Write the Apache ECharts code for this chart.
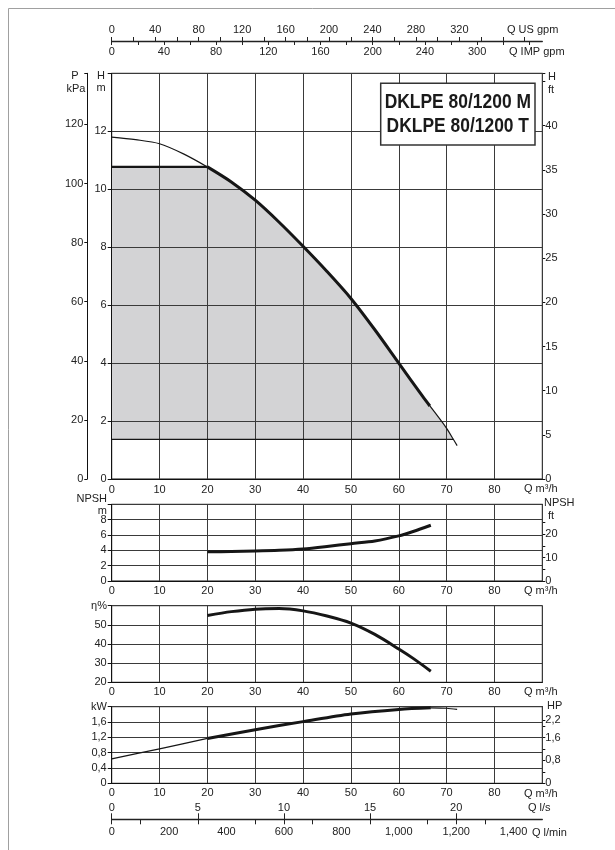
<!DOCTYPE html>
<html><head><meta charset="utf-8">
<script src="https://cdn.jsdelivr.net/npm/echarts@6/dist/echarts.min.js"></script>
<style>html,body{margin:0;padding:0;background:#fff}#c{width:615px;height:850px}</style>
</head><body><div id="c"></div>
<script>
// ---------- data ----------
const flowLabels = [0, 10, 20, 30, 40, 50, 60, 70, 80];           // Q m3/h
const headQ   = [0, 5, 10, 15, 20, 25, 30, 35, 40, 45, 50, 55, 60, 65, 66.5, 70, 71.4, 72.2];
const headH   = [11.8, 11.71, 11.57, 11.22, 10.77, 10.25, 9.62, 8.86, 8.03, 7.16, 6.23, 5.15, 4.0, 2.85, 2.52, 1.75, 1.37, 1.15];
const envelopeTop = [[0, 10.77], [20, 10.77]];
const envelopeBottom = [[0, 1.37], [71.4, 1.37]];
const npshQ   = [20, 25, 30, 35, 40, 45, 50, 55, 60, 63, 66.7];
const npshM   = [3.8, 3.84, 3.9, 4.0, 4.18, 4.5, 4.87, 5.22, 5.88, 6.45, 7.27];
const effQ    = [20, 25, 30, 35, 40, 45, 50, 55, 60, 63, 66.7];
const effPct  = [54.9, 56.9, 58.2, 58.5, 57.3, 54.6, 50.9, 45.0, 37.4, 32.5, 25.8];
const powQ    = [0, 10, 20, 30, 40, 50, 60, 66.7, 70, 72.2];
const powKW   = [0.64, 0.90, 1.17, 1.40, 1.61, 1.81, 1.93, 1.97, 1.96, 1.93];
const usGpmLabels  = [0, 40, 80, 120, 160, 200, 240, 280, 320];
const usGpmTicks   = [0, 20, 40, 60, 80, 100, 120, 140, 160, 180, 200, 220, 240, 260, 280, 300, 320, 340, 360, 380];
const impGpmLabelPos  = [0, 40, 80, 120, 160, 200, 240, 280];
const impGpmLabelText = ['0', '40', '80', '120', '160', '200', '240', '300'];
const impGpmTicks  = [0, 20, 40, 60, 80, 100, 120, 140, 160, 180, 200, 220, 240, 260, 280, 300, 320];
const lsLabels     = [0, 5, 10, 15, 20];
const lminLabels   = [0, 200, 400, 600, 800, 1000, 1200, 1400];
const lminTicks    = [0, 100, 300, 500, 600, 700, 900, 1100, 1200, 1300];
const npshFtLabels = [0, 10, 20];
const npshFtTicks  = [0, 5, 10, 15, 20, 25];
const hpLabels     = [0, 0.8, 1.6, 2.2];
const hpTicks      = [0, 0.4, 0.8, 1.2, 1.6, 2.0, 2.2];
const titleLines   = ['DKLPE 80/1200 M', 'DKLPE 80/1200 T'];

// ---------- helpers ----------
const pairs = (xs, ys) => xs.map((x, i) => [x, ys[i]]);
const Qmax = 90;
const M_TO_KPA = 9.80665, M_TO_FT = 1 / 0.3048, KW_TO_HP = 1 / 0.7457;
const FONT = "'Liberation Sans', Arial, sans-serif";
const TXT = '#222';
const GRIDC = '#3a3a3a';
const SMOOTH = 0.3;
const comma = v => v === 0 ? '0' : String(Math.round(v * 10) / 10).replace('.', ',');

const L = 111.7, R = 615 - 542.3;
const grids = [
  {left: L, right: R, top: 73.3, height: 405.7},
  {left: L, right: R, top: 504.3, height: 76.7},
  {left: L, right: R, top: 605.7, height: 76.6},
  {left: L, right: R, top: 706.7, height: 76.6},
  {left: L, right: R, top: 40, height: 1},
  {left: L, right: R, top: 818.3, height: 1}
].map((g, i) => Object.assign({show: i < 4, borderColor: '#111', borderWidth: 1, backgroundColor: 'transparent', containLabel: false, outerBoundsMode: 'none'}, g));

const lbl = (extra) => Object.assign({color: TXT, fontFamily: FONT, fontSize: 11}, extra);
function flowAxis(gi, margin) {
  return {
    type: 'value', gridIndex: gi, min: 0, max: Qmax, interval: 10, z: 3,
    axisLine: {show: true, lineStyle: {color: '#111', width: 1}},
    axisTick: {show: false},
    axisLabel: lbl({margin: margin, customValues: flowLabels}),
    splitLine: {show: true, lineStyle: {color: GRIDC, width: 1}}
  };
}
function leftAxis(gi, min, max, interval, fmt, margin) {
  return {
    type: 'value', gridIndex: gi, position: 'left', min: min, max: max, interval: interval, z: 3,
    axisLine: {show: true, lineStyle: {color: '#111'}},
    axisTick: {show: true, length: 4, lineStyle: {color: '#111'}},
    axisLabel: lbl({margin: margin || 5, formatter: fmt}),
    splitLine: {show: true, lineStyle: {color: GRIDC, width: 1}}
  };
}

const xAxes = [
  flowAxis(0, 5), flowAxis(1, 4), flowAxis(2, 4), flowAxis(3, 4),
  { // US gpm (top)
    type: 'value', gridIndex: 4, position: 'top', min: 0, max: Qmax * 4.40287,
    axisLine: {show: true, lineStyle: {color: '#222', width: 1.3}},
    axisTick: {show: true, length: 4, customValues: usGpmTicks, lineStyle: {color: '#222'}},
    axisLabel: lbl({margin: 5, customValues: usGpmLabels}),
    splitLine: {show: false}
  },
  { // IMP gpm (bottom)
    type: 'value', gridIndex: 4, position: 'bottom', min: 0, max: Qmax * 3.66615,
    axisLine: {show: false},
    axisTick: {show: true, length: 4, customValues: impGpmTicks, lineStyle: {color: '#222'}},
    axisLabel: lbl({margin: 5, customValues: impGpmLabelPos,
      formatter: v => impGpmLabelText[impGpmLabelPos.indexOf(v)] || ''}),
    splitLine: {show: false}
  },
  { // l/s (top)
    type: 'value', gridIndex: 5, position: 'top', min: 0, max: Qmax / 3.6,
    axisLine: {show: true, lineStyle: {color: '#222', width: 1.3}},
    axisTick: {show: true, length: 6, customValues: lsLabels, lineStyle: {color: '#222'}},
    axisLabel: lbl({margin: 5, customValues: lsLabels}),
    splitLine: {show: false}
  },
  { // l/min (bottom)
    type: 'value', gridIndex: 5, position: 'bottom', min: 0, max: Qmax * 1000 / 60,
    axisLine: {show: false},
    axisTick: {show: true, length: 5, customValues: lminTicks, lineStyle: {color: '#222'}},
    axisLabel: lbl({margin: 7, customValues: lminLabels}),
    splitLine: {show: false}
  }
];

const yAxes = [
  leftAxis(0, 0, 14, 2, v => v > 12 ? '' : v, 5),
  { // kPa
    type: 'value', gridIndex: 0, position: 'left', offset: L - 87.3, min: 0, max: 14 * M_TO_KPA, interval: 20,
    axisLine: {show: true, lineStyle: {color: '#111'}},
    axisTick: {show: true, length: 3, lineStyle: {color: '#111'}},
    axisLabel: lbl({margin: 4, formatter: v => v > 120 ? '' : v}),
    splitLine: {show: false}
  },
  { // ft
    type: 'value', gridIndex: 0, position: 'right', min: 0, max: 14 * M_TO_FT, interval: 5,
    axisLine: {show: true, lineStyle: {color: '#111'}},
    axisTick: {show: true, length: 3, lineStyle: {color: '#111'}},
    axisLabel: lbl({margin: 3, formatter: v => v > 40 ? '' : v}),
    splitLine: {show: false}
  },
  leftAxis(1, 0, 10, 2, v => v > 8 ? '' : v, 5),
  { // NPSH ft
    type: 'value', gridIndex: 1, position: 'right', min: 0, max: 10 * M_TO_FT,
    axisLine: {show: true, lineStyle: {color: '#111'}},
    axisTick: {show: true, length: 3, customValues: npshFtTicks, lineStyle: {color: '#111'}},
    axisLabel: lbl({margin: 3, customValues: npshFtLabels}),
    splitLine: {show: false}
  },
  leftAxis(2, 20, 60, 10, v => v > 50 ? '' : v, 5),
  leftAxis(3, 0, 2.0, 0.4, v => v > 1.9 ? '' : comma(v), 5),
  { // HP
    type: 'value', gridIndex: 3, position: 'right', min: 0, max: 2.0 * KW_TO_HP,
    axisLine: {show: true, lineStyle: {color: '#111'}},
    axisTick: {show: true, length: 3, customValues: hpTicks, lineStyle: {color: '#111'}},
    axisLabel: lbl({margin: 3, customValues: hpLabels, formatter: v => comma(v)}),
    splitLine: {show: false}
  },
  {type: 'value', gridIndex: 4, show: false, min: 0, max: 1},
  {type: 'value', gridIndex: 5, show: false, min: 0, max: 1}
];

const headPts = pairs(headQ, headH);
const iStart = headQ.indexOf(20), iThickEnd = headQ.indexOf(66.5), iEnv = headQ.indexOf(71.4);
const npshPts = pairs(npshQ, npshM), effPts = pairs(effQ, effPct), powPts = pairs(powQ, powKW);
const pStart = powQ.indexOf(20), pEnd = powQ.indexOf(66.7);

const INK = '#161616';
function curve(data, xi, yi, width, smooth) {
  return {type: 'line', xAxisIndex: xi, yAxisIndex: yi, data: data, showSymbol: false, symbol: 'none',
    smooth: smooth, z: 5, silent: true,
    lineStyle: {color: INK, width: width, cap: 'butt', join: 'round'}};
}

const series = [
  // operating envelope (gray area)
  {type: 'line', xAxisIndex: 0, yAxisIndex: 0, data: envelopeTop, showSymbol: false, symbol: 'none', z: 1, silent: true,
    lineStyle: {width: 0}, areaStyle: {color: '#d3d3d5', opacity: 1, origin: envelopeBottom[0][1]}},
  {type: 'line', xAxisIndex: 0, yAxisIndex: 0, data: headPts.slice(iStart, iEnv + 1), showSymbol: false, symbol: 'none', z: 1, silent: true,
    smooth: SMOOTH,
    lineStyle: {width: 0}, areaStyle: {color: '#d3d3d5', opacity: 1, origin: envelopeBottom[0][1]}},
  curve(envelopeTop, 0, 0, 2.2, false),
  curve(envelopeBottom, 0, 0, 1.2, false),
  curve(headPts.slice(0, iStart + 1), 0, 0, 1.2, SMOOTH),
  curve(headPts.slice(iStart, iThickEnd + 1), 0, 0, 3, SMOOTH),
  curve(headPts.slice(iThickEnd), 0, 0, 1.2, SMOOTH),
  curve(npshPts, 1, 3, 3, SMOOTH),
  curve(effPts, 2, 5, 3, SMOOTH),
  curve(powPts.slice(0, pStart + 1), 3, 6, 1.3, SMOOTH),
  curve(powPts.slice(pStart, pEnd + 1), 3, 6, 3, SMOOTH),
  curve(powPts.slice(pEnd), 3, 6, 1.2, SMOOTH)
];

function T(text, x, y, align, extra, attrs) {
  return Object.assign({type: 'text', x: x, y: y, z: 50, silent: true,
    style: Object.assign({text: text, fill: TXT, font: '11px ' + FONT, textAlign: align || 'left', textVerticalAlign: 'middle'}, extra || {})}, attrs || {});
}
const titleFont = "bold 21px 'Liberation Sans', Arial, sans-serif";
const graphics = [
  {type: 'rect', z: -10, silent: true, shape: {x: 8.5, y: 8.5, width: 800, height: 1000}, style: {fill: 'none', stroke: '#a0a0a0', lineWidth: 1}},
  {type: 'rect', z: 40, silent: true, shape: {x: 380.7, y: 83.3, width: 154.3, height: 61.7}, style: {fill: '#fff', stroke: '#333', lineWidth: 1.5}},
  T(titleLines[0], 457.8, 102.5, 'center', {font: titleFont, fill: '#1a1a1a'}, {scaleX: 0.83}),
  T(titleLines[1], 457.8, 126, 'center', {font: titleFont, fill: '#1a1a1a'}, {scaleX: 0.83}),
  T('Q US gpm', 507, 30), T('Q IMP gpm', 509, 51.7),
  T('P', 75, 76, 'center'), T('kPa', 76, 89, 'center'),
  T('H', 101, 76, 'center'), T('m', 101, 88, 'center'),
  T('H', 548, 77), T('ft', 548, 90),
  T('Q m³/h', 524, 488.5),
  T('NPSH', 107, 499, 'right'), T('m', 107, 510.7, 'right'),
  T('NPSH', 544, 503.3), T('ft', 548, 515.7),
  T('Q m³/h', 524, 590.5),
  T('η%', 107, 605.7, 'right'),
  T('Q m³/h', 524, 692),
  T('kW', 107, 706.7, 'right'),
  T('HP', 547, 705.7),
  T('Q m³/h', 524, 793.5),
  T('Q l/s', 528, 808), T('Q l/min', 532, 833)
];

const chart = echarts.init(document.getElementById('c'), null, {renderer: 'canvas'});
chart.setOption({
  animation: false,
  backgroundColor: '#fff',
  grid: grids,
  xAxis: xAxes,
  yAxis: yAxes,
  series: series,
  graphic: graphics
});
</script></body></html>
